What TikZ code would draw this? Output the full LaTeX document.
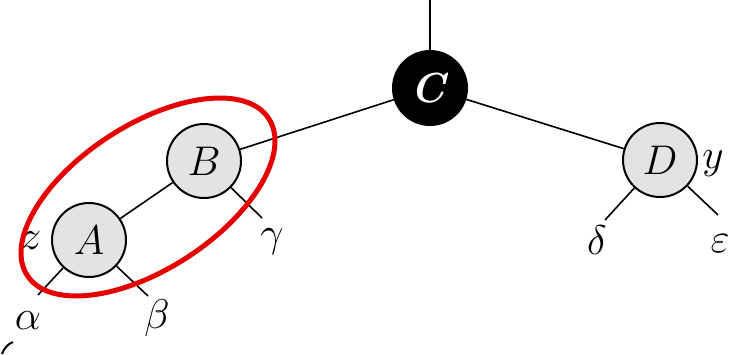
\documentclass[tikz,border=0pt]{standalone}
\begin{document}
\begin{tikzpicture}[x=0.5pt, y=-0.5pt,
		tnode/.style={circle, draw=black, line width=1pt, fill=gray!22, minimum size=37pt, inner sep=0pt, font=\fontsize{21}{24}\selectfont},
		edge/.style={line width=0.8pt},
		lbl/.style={font=\fontsize{21}{24}\selectfont, inner sep=0pt}]
	\useasboundingbox (0,0) rectangle (729,354);
	\node[tnode, fill=black, text=white] (C) at (430,88) {\textbf{\textit{C}}};
	\node[tnode] (B) at (204,161) {$B$};
	\node[tnode] (A) at (89,240) {$A$};
	\node[tnode] (D) at (660,160) {$D$};
	\coordinate (top) at (430,0);
	\coordinate (Al) at (38,295);
	\coordinate (Ar) at (148,296);
	\coordinate (Br) at (262,218);
	\coordinate (Dl) at (605,220);
	\coordinate (Dr) at (718,215);
	\draw[edge] (top) -- (C);
	\draw[edge] (C) -- (B);
	\draw[edge] (C) -- (D);
	\draw[edge] (B) -- (A);
	\draw[edge] (A) -- (Al);
	\draw[edge] (A) -- (Ar);
	\draw[edge] (B) -- (Br);
	\draw[edge] (D) -- (Dl);
	\draw[edge] (D) -- (Dr);
	\node[lbl] (alpha) at (28,321) {$\alpha$};
	\node[lbl] (beta) at (157,318) {$\beta$};
	\node[lbl] (gamma) at (272,242) {$\gamma$};
	\node[lbl] (delta) at (597,240) {$\delta$};
	\node[lbl] (eps) at (720,244) {$\varepsilon$};
	\node[lbl] (z) at (31,241) {$z$};
	\node[lbl] (y) at (713,164) {$y$};
	\draw[red!90!black, line width=2.5pt, rotate around={33:(148,197)}] (148,197) ellipse [x radius=144, y radius=72];
	\draw[line width=1pt] (2,354) .. controls (4,348) and (8,344) .. (13,342);
\end{tikzpicture}
\end{document}
